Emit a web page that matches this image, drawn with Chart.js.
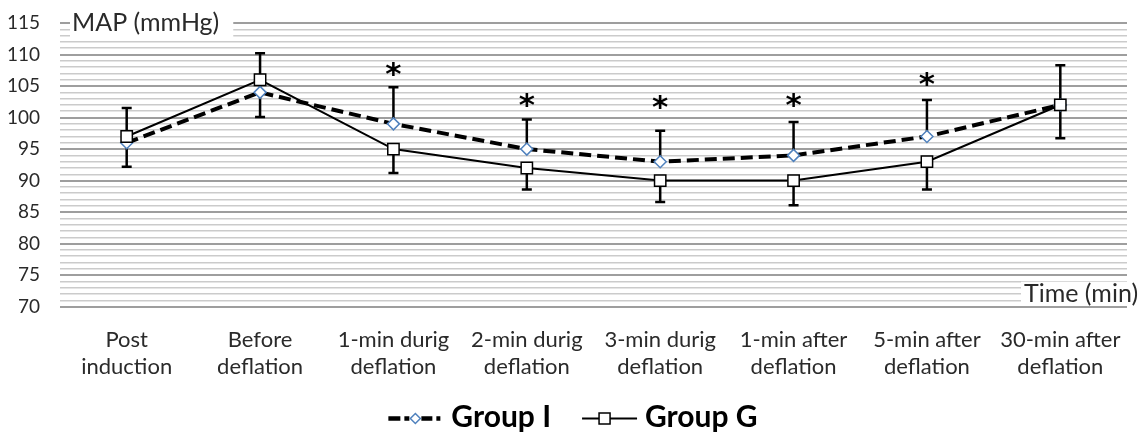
<!DOCTYPE html>
<html><head><meta charset="utf-8">
<script src="https://cdn.jsdelivr.net/npm/chart.js@4.4.1/dist/chart.umd.min.js"></script>
<style>html,body{margin:0;padding:0;background:#fff;}#wrap{width:1146px;height:432px;position:relative;}</style>
</head><body><div id="wrap"><canvas id="c"></canvas></div>
<script>
// ---- data ----
const categories = [["Post","induction"],["Before","deflation"],["1-min durig","deflation"],["2-min durig","deflation"],["3-min durig","deflation"],["1-min after","deflation"],["5-min after","deflation"],["30-min after","deflation"]];
const groupI = [96, 104, 99, 95, 93, 94, 97, 102];
const groupG = [97, 106, 95, 92, 90, 90, 93, 102];
const groupIUpperErr = [5.5, 6.2, 5.8, 4.7, 4.9, 5.3, 5.8, 6.3];
const groupGLowerErr = [4.8, 5.9, 3.8, 3.4, 3.4, 3.9, 4.4, 5.3];
const starValues = [null, null, 107.7, 102.8, 102.5, 102.8, 106.1, null];
const yTickLabels = [70, 75, 80, 85, 90, 95, 100, 105, 110, 115];
const yTitle = "MAP (mmHg)";
const xTitle = "Time (min)";
const seriesNames = ["Group I", "Group G"];

const TEXT = '#2a2a2a';
const FONT = 'Lato, "Open Sans", sans-serif';
const DIAMOND_BLUE = '#4f81bd';
const LEGEND_HEIGHT = 47;
const X_AXIS_HEIGHT = 78.3;

function drawLegendMarker(g, x, cy, dashed){
  g.save();
  g.strokeStyle = '#000';
  if (dashed){
    g.lineWidth = 4.5; g.setLineDash([12,4]);
    g.beginPath(); g.moveTo(x, cy); g.lineTo(x + 52, cy); g.stroke();
    g.setLineDash([]);
    g.fillStyle = '#fff';
    g.fillRect(x + 21, cy - 7, 12, 14);
    g.beginPath(); g.moveTo(x + 27, cy - 5); g.lineTo(x + 32, cy); g.lineTo(x + 27, cy + 5); g.lineTo(x + 22, cy); g.closePath();
    g.fill(); g.lineWidth = 1.5; g.strokeStyle = DIAMOND_BLUE; g.stroke();
  } else {
    g.lineWidth = 2;
    g.beginPath(); g.moveTo(x, cy); g.lineTo(x + 55, cy); g.stroke();
    g.fillStyle = '#fff'; g.fillRect(x + 17, cy - 5.5, 11, 11);
    g.lineWidth = 1.5; g.strokeRect(x + 17, cy - 5.5, 11, 11);
  }
  g.restore();
}

const extras = {
  id: 'extras',
  beforeDatasetsDraw(chart){
    const {ctx, scales:{x, y}} = chart;
    ctx.save();
    ctx.strokeStyle = '#000';
    ctx.lineWidth = 2.5;
    const cap = 5;
    categories.forEach((c, i) => {
      const px = x.getPixelForValue(i);
      const yI = y.getPixelForValue(groupI[i]);
      const yTop = y.getPixelForValue(groupI[i] + groupIUpperErr[i]);
      const yG = y.getPixelForValue(groupG[i]);
      const yBot = y.getPixelForValue(groupG[i] - groupGLowerErr[i]);
      ctx.beginPath();
      ctx.moveTo(px, yI); ctx.lineTo(px, yTop);
      ctx.moveTo(px - cap, yTop); ctx.lineTo(px + cap, yTop);
      ctx.moveTo(px, yG); ctx.lineTo(px, yBot);
      ctx.moveTo(px - cap, yBot); ctx.lineTo(px + cap, yBot);
      ctx.stroke();
    });
    ctx.restore();
  },
  afterDatasetsDraw(chart){
    const {ctx, scales:{x, y}, chartArea} = chart;
    ctx.save();
    // significance stars
    ctx.fillStyle = '#000';
    ctx.font = 'bold 31px "DejaVu Sans", sans-serif';
    ctx.textAlign = 'center';
    ctx.textBaseline = 'alphabetic';
    starValues.forEach((v, i) => {
      if (v == null) return;
      ctx.fillText('*', x.getPixelForValue(i), y.getPixelForValue(v) + 15);
    });
    // axis titles inside plot
    ctx.font = '25px ' + FONT;
    ctx.textBaseline = 'middle';
    ctx.textAlign = 'left';
    const tw = ctx.measureText(yTitle).width;
    ctx.fillStyle = '#fff';
    ctx.fillRect(chartArea.left + 10, chartArea.top - 15, tw + 16, 30);
    ctx.fillStyle = TEXT;
    ctx.fillText(yTitle, chartArea.left + 12, chartArea.top);
    const tw2 = ctx.measureText(xTitle).width;
    ctx.fillStyle = '#fff';
    ctx.fillRect(chartArea.right - 106, chartArea.bottom - 25, tw2 + 20, 22);
    ctx.fillStyle = TEXT;
    ctx.fillText(xTitle, chartArea.right - 103, chartArea.bottom - 13);
    ctx.restore();
  },
  afterDraw(chart){
    // legend
    const ctx = chart.ctx;
    ctx.save();
    ctx.font = 'bold 30px ' + FONT;
    ctx.textBaseline = 'middle';
    ctx.textAlign = 'left';
    const markerW = [52, 55], markerGap = [11, 8], itemGap = 31;
    const textW = seriesNames.map(n => ctx.measureText(n).width);
    const total = markerW[0] + markerGap[0] + textW[0] + itemGap + markerW[1] + markerGap[1] + textW[1];
    let cx = chart.width / 2 - total / 2;
    const cy = chart.height - LEGEND_HEIGHT / 2 + 9;
    seriesNames.forEach((n, i) => {
      drawLegendMarker(ctx, cx, cy + 1, i === 0);
      cx += markerW[i] + markerGap[i];
      ctx.fillStyle = '#000';
      ctx.fillText(n, cx, cy);
      cx += textW[i] + itemGap;
    });
    ctx.restore();
  }
};

const chart = new Chart(document.getElementById('c'), {
  type: 'line',
  data: {
    labels: categories,
    datasets: [
      {
        label: seriesNames[0], data: groupI, order: 1,
        borderColor: '#000', borderWidth: 4, borderDash: [12, 6],
        pointStyle: 'rectRot', pointRadius: 6, pointHoverRadius: 6,
        pointBackgroundColor: '#fff', pointBorderColor: DIAMOND_BLUE, pointBorderWidth: 1.5,
        tension: 0, fill: false
      },
      {
        label: seriesNames[1], data: groupG, order: 0,
        borderColor: '#000', borderWidth: 2,
        pointStyle: 'rect', pointRadius: 8, pointHoverRadius: 8,
        pointBackgroundColor: '#fff', pointBorderColor: '#000', pointBorderWidth: 1.5,
        tension: 0, fill: false
      }
    ]
  },
  options: {
    responsive: true, maintainAspectRatio: false, animation: false,
    devicePixelRatio: 1,
    layout: { padding: { left: 0, right: 19, top: 23, bottom: LEGEND_HEIGHT } },
    plugins: {
      tooltip: { enabled: false },
      legend: { display: false }
    },
    scales: {
      x: {
        type: 'category', offset: true,
        grid: { display: false, drawTicks: false },
        border: { display: false },
        ticks: { color: TEXT, font: { family: FONT, size: 22, lineHeight: 1.25 }, padding: 19, maxRotation: 0, autoSkip: false },
        afterFit(scale){ scale.height = X_AXIS_HEIGHT; }
      },
      y: {
        min: 70, max: 115,
        grid: {
          drawTicks: false,
          color: (c) => yTickLabels.includes(c.tick.value) ? '#9e9e9e' : '#cbcbcb',
          lineWidth: (c) => yTickLabels.includes(c.tick.value) ? 2 : 1.6
        },
        border: { display: false },
        ticks: {
          stepSize: 1, autoSkip: false, padding: 20, color: TEXT,
          font: { family: FONT, size: 19 },
          callback: (v) => yTickLabels.includes(v) ? String(v) : ''
        },
        afterFit(scale){ scale.width = 60; scale.paddingTop = 0; scale.paddingBottom = 0; }
      }
    }
  },
  plugins: [extras]
});
</script></body></html>
